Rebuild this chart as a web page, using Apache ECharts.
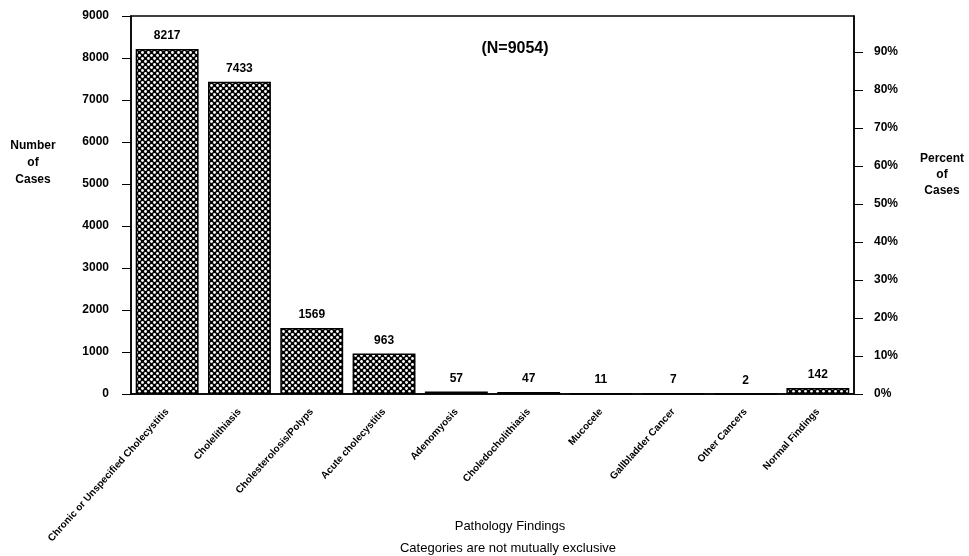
<!DOCTYPE html>
<html>
<head>
<meta charset="utf-8">
<script src="https://cdn.jsdelivr.net/npm/echarts@6/dist/echarts.min.js"></script>
<style>
  html, body { margin: 0; padding: 0; background: #fff; }
  #chart { width: 969px; height: 556px; }
</style>
</head>
<body>
<div id="chart"></div>
<script>
const categories = [
  'Chronic or Unspecified Cholecystitis', 'Cholelithiasis', 'Cholesterolosis/Polyps',
  'Acute cholecystitis', 'Adenomyosis', 'Choledocholithiasis', 'Mucocele',
  'Gallbladder Cancer', 'Other Cancers', 'Normal Findings'
];
const cases = [8217, 7433, 1569, 963, 57, 47, 11, 7, 2, 142];
const totalCases = 9054;
const countTicks = [0, 1000, 2000, 3000, 4000, 5000, 6000, 7000, 8000, 9000];

// crosshatch fill: black with white dots on a diamond lattice
function hatch() {
  const c = document.createElement('canvas');
  c.width = 6; c.height = 6;
  const g = c.getContext('2d');
  g.fillStyle = '#000';
  g.fillRect(0, 0, 6, 6);
  g.fillStyle = '#fff';
  [[1.5, 1.5], [4.5, 4.5]].forEach(p => {
    g.beginPath();
    g.arc(p[0], p[1], 1.4, 0, Math.PI * 2);
    g.fill();
  });
  return c;
}

const font = '"Liberation Sans", Arial, sans-serif';
const chart = echarts.init(document.getElementById('chart'));

function label(x, y, text, size, lh, bold) {
  return {
    type: 'text', x: x, y: y,
    style: {
      text: text, align: 'center', verticalAlign: 'top', lineHeight: lh,
      font: (bold ? 'bold ' : '') + size + 'px ' + font, fill: '#000'
    }
  };
}

chart.setOption({
  animation: false,
  textStyle: { fontFamily: font },
  title: {
    text: '(N=' + totalCases + ')',
    left: 510, top: 36,
    textAlign: 'center',
    textStyle: { fontSize: 16, fontWeight: 'bold', color: '#000', fontFamily: font }
  },
  grid: {
    left: 131, right: 115, top: 16, bottom: 162,
    show: true, borderColor: '#000', borderWidth: 1.5
  },
  graphic: [
    label(33, 137, 'Number\nof\nCases', 12, 17, true),
    label(942, 151, 'Percent\nof\nCases', 12, 16, true),
    label(510, 519, 'Pathology Findings', 13, 15, false),
    label(508, 541, 'Categories are not mutually exclusive', 13, 15, false)
  ],
  xAxis: {
    type: 'category',
    data: categories,
    axisLine: { lineStyle: { color: '#000', width: 1.5 } },
    axisTick: { alignWithLabel: true, length: 8, lineStyle: { color: '#000' } },
    axisLabel: {
      rotate: 48, interval: 0, margin: 16,
      fontSize: 10, fontWeight: 'bold', color: '#000', fontFamily: font
    }
  },
  yAxis: [
    {
      type: 'value',
      min: countTicks[0], max: countTicks[countTicks.length - 1], interval: 1000,
      axisLine: { show: true, lineStyle: { color: '#000', width: 1.5 } },
      axisTick: { show: true, length: 9, lineStyle: { color: '#000' } },
      splitLine: { show: false },
      axisLabel: {
        margin: 22, fontSize: 12, fontWeight: 'bold', color: '#000', fontFamily: font,
        formatter: v => String(v)
      }
    },
    {
      type: 'value',
      position: 'right',
      min: 0, max: countTicks[countTicks.length - 1] / totalCases * 100, interval: 10,
      axisLine: { show: true, lineStyle: { color: '#000', width: 1.5 } },
      axisTick: { show: true, length: 9, lineStyle: { color: '#000' } },
      splitLine: { show: false },
      axisLabel: {
        margin: 20, fontSize: 12, fontWeight: 'bold', color: '#000', fontFamily: font,
        showMaxLabel: false,
        formatter: v => Math.round(v) + '%'
      }
    }
  ],
  series: [
    {
      type: 'bar',
      data: cases,
      barWidth: '87%',
      itemStyle: {
        color: { image: hatch(), repeat: 'repeat' },
        borderColor: '#000',
        borderWidth: 1.5
      },
      label: {
        show: true, position: 'top', distance: 7,
        fontSize: 12, fontWeight: 'bold', color: '#000', fontFamily: font
      }
    }
  ]
});
</script>
</body>
</html>
